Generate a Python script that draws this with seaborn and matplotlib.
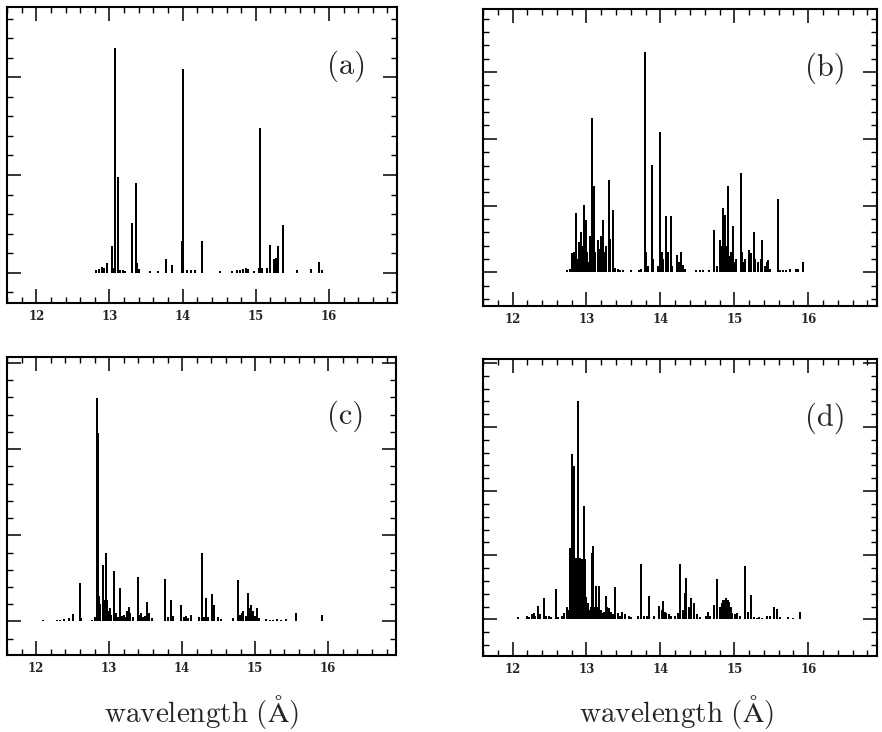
import matplotlib
matplotlib.use("Agg")
import matplotlib.pyplot as plt
from matplotlib.ticker import MultipleLocator, FixedLocator, NullFormatter
import seaborn as sns
import pandas as pd

# ---------------- data (wavelength in Angstrom, intensity in arbitrary units) -------------
wl_a = [12.82, 12.86, 12.90, 12.93, 12.96, 13.04, 13.06, 13.073, 13.115, 13.15, 13.18, 13.21,
        13.31, 13.36, 13.37, 13.41, 13.55, 13.66, 13.775, 13.86, 13.985, 14.00, 14.06, 14.12,
        14.17, 14.27, 14.51, 14.67, 14.74, 14.79, 14.82, 14.86, 14.89, 14.97, 15.04, 15.06,
        15.09, 15.15, 15.20, 15.25, 15.27, 15.31, 15.37, 15.57, 15.75, 15.87, 15.90]
h_a = [0.03, 0.04, 0.06, 0.05, 0.10, 0.27, 0.05, 2.30, 0.98, 0.03, 0.03, 0.02,
       0.505, 0.915, 0.10, 0.04, 0.02, 0.02, 0.14, 0.08, 0.32, 2.085, 0.03, 0.03,
       0.03, 0.32, 0.015, 0.02, 0.03, 0.03, 0.04, 0.05, 0.04, 0.02, 0.05, 1.48,
       0.05, 0.05, 0.28, 0.14, 0.15, 0.27, 0.49, 0.03, 0.04, 0.11, 0.03]

wl_b = [12.74, 12.78, 12.81, 12.83, 12.86, 12.88, 12.90, 12.92, 12.94, 12.96, 12.97, 12.99,
        13.01, 13.03, 13.05, 13.07, 13.08, 13.10, 13.12, 13.15, 13.17, 13.20, 13.22, 13.24,
        13.27, 13.30, 13.32, 13.36, 13.39, 13.42, 13.45, 13.50, 13.60, 13.71, 13.74, 13.785,
        13.80, 13.83, 13.88, 13.90, 13.97, 14.00, 14.02, 14.04, 14.07, 14.10, 14.14, 14.16,
        14.22, 14.25, 14.28, 14.31, 14.33, 14.48, 14.53, 14.57, 14.66, 14.73, 14.76, 14.80,
        14.82, 14.84, 14.87, 14.89, 14.91, 14.93, 14.95, 14.98, 15.00, 15.02, 15.09, 15.10,
        15.12, 15.15, 15.20, 15.22, 15.26, 15.28, 15.32, 15.36, 15.38, 15.41, 15.44, 15.46,
        15.48, 15.59, 15.62, 15.66, 15.70, 15.75, 15.84, 15.86, 15.93]
h_b = [0.04, 0.05, 0.29, 0.30, 0.89, 0.20, 0.45, 0.61, 0.40, 1.01, 0.85, 0.79,
       0.30, 0.15, 0.55, 1.44, 2.31, 1.29, 0.30, 0.49, 0.35, 0.54, 0.78, 0.30,
       0.39, 1.39, 0.50, 0.94, 0.06, 0.05, 0.04, 0.03, 0.03, 0.04, 0.05, 3.30,
       0.30, 0.10, 1.61, 0.20, 0.10, 2.10, 0.30, 0.20, 0.85, 0.30, 0.84, 0.10,
       0.26, 0.15, 0.31, 0.11, 0.05, 0.03, 0.04, 0.03, 0.04, 0.64, 0.10, 0.49,
       0.40, 0.96, 0.86, 0.40, 1.29, 0.24, 0.30, 0.69, 0.15, 0.20, 1.49, 0.30,
       0.15, 0.20, 0.34, 0.29, 0.61, 0.20, 0.15, 0.20, 0.49, 0.10, 0.15, 0.19,
       0.05, 1.10, 0.03, 0.04, 0.03, 0.05, 0.05, 0.05, 0.16]

wl_c = [12.10, 12.29, 12.33, 12.38, 12.45, 12.50, 12.60, 12.62, 12.77, 12.80, 12.83, 12.84,
        12.845, 12.86, 12.88, 12.91, 12.93, 12.95, 12.97, 12.99, 13.01, 13.03, 13.07, 13.09,
        13.11, 13.13, 13.15, 13.17, 13.20, 13.22, 13.25, 13.27, 13.29, 13.32, 13.39, 13.41,
        13.44, 13.46, 13.49, 13.52, 13.55, 13.59, 13.76, 13.77, 13.80, 13.85, 13.87, 13.98,
        14.02, 14.05, 14.08, 14.12, 14.23, 14.27, 14.30, 14.33, 14.36, 14.41, 14.44, 14.49,
        14.53, 14.70, 14.77, 14.79, 14.82, 14.84, 14.87, 14.90, 14.92, 14.95, 14.97, 15.00,
        15.02, 15.05, 15.15, 15.20, 15.25, 15.30, 15.36, 15.42, 15.56, 15.91]
h_c = [0.02, 0.02, 0.02, 0.03, 0.04, 0.09, 0.45, 0.04, 0.02, 0.05, 1.05, 2.59,
       2.19, 0.30, 0.20, 0.66, 0.25, 0.79, 0.25, 0.12, 0.15, 0.08, 0.59, 0.10,
       0.05, 0.05, 0.39, 0.06, 0.07, 0.05, 0.12, 0.17, 0.10, 0.05, 0.52, 0.07,
       0.10, 0.05, 0.06, 0.22, 0.10, 0.04, 0.04, 0.49, 0.05, 0.25, 0.06, 0.19,
       0.05, 0.06, 0.04, 0.08, 0.05, 0.79, 0.05, 0.27, 0.05, 0.32, 0.19, 0.05,
       0.03, 0.04, 0.48, 0.08, 0.10, 0.12, 0.06, 0.33, 0.15, 0.19, 0.12, 0.06,
       0.16, 0.04, 0.03, 0.02, 0.02, 0.03, 0.02, 0.03, 0.10, 0.07]

wl_d = [12.08, 12.19, 12.22, 12.26, 12.29, 12.31, 12.35, 12.37, 12.42, 12.45, 12.49, 12.52,
        12.59, 12.62, 12.67, 12.70, 12.73, 12.76, 12.78, 12.80, 12.81, 12.82, 12.83, 12.84,
        12.85, 12.86, 12.87, 12.88, 12.89, 12.90, 12.91, 12.92, 12.93, 12.94, 12.95, 12.96,
        12.97, 12.98, 12.99, 13.00, 13.02, 13.04, 13.06, 13.07, 13.09, 13.11, 13.13, 13.15,
        13.175, 13.20, 13.22, 13.24, 13.26, 13.28, 13.31, 13.33, 13.36, 13.39, 13.42, 13.45,
        13.48, 13.52, 13.57, 13.60, 13.70, 13.74, 13.78, 13.82, 13.85, 13.92, 13.98, 14.02,
        14.04, 14.06, 14.08, 14.11, 14.14, 14.20, 14.24, 14.27, 14.30, 14.33, 14.35, 14.38,
        14.42, 14.45, 14.50, 14.53, 14.61, 14.64, 14.67, 14.72, 14.77, 14.81, 14.83, 14.85,
        14.87, 14.89, 14.91, 14.93, 14.95, 14.97, 15.01, 15.04, 15.07, 15.15, 15.19, 15.22,
        15.26, 15.30, 15.34, 15.38, 15.44, 15.48, 15.53, 15.58, 15.62, 15.73, 15.80, 15.89,
        12.805, 12.815, 12.825, 12.835, 12.845, 12.855, 12.865, 12.875, 12.885, 12.895,
        12.905, 12.915, 12.925, 12.935, 12.945, 12.955, 12.965, 12.975]
h_d = [0.04, 0.05, 0.04, 0.08, 0.10, 0.06, 0.21, 0.08, 0.34, 0.06, 0.05, 0.04,
       0.48, 0.04, 0.05, 0.10, 0.20, 0.15, 1.11, 0.93, 2.58, 0.93, 2.39, 0.95,
       0.95, 0.95, 0.95, 0.95, 3.40, 0.95, 0.95, 0.94, 0.94, 0.94, 0.93, 0.60,
       1.77, 0.94, 0.35, 0.30, 0.25, 0.15, 0.20, 1.03, 1.15, 0.20, 0.52, 0.20,
       0.52, 0.15, 0.10, 0.12, 0.37, 0.20, 0.18, 0.12, 0.08, 0.51, 0.10, 0.05,
       0.12, 0.08, 0.05, 0.04, 0.05, 0.86, 0.06, 0.05, 0.36, 0.06, 0.21, 0.15,
       0.28, 0.12, 0.10, 0.08, 0.05, 0.05, 0.10, 0.86, 0.15, 0.41, 0.65, 0.20,
       0.33, 0.26, 0.08, 0.04, 0.05, 0.12, 0.06, 0.22, 0.63, 0.20, 0.25, 0.30,
       0.31, 0.33, 0.30, 0.27, 0.20, 0.10, 0.08, 0.10, 0.06, 0.83, 0.12, 0.38,
       0.04, 0.03, 0.04, 0.03, 0.05, 0.05, 0.20, 0.17, 0.04, 0.04, 0.02, 0.12,
       0.92, 0.93, 0.94, 0.94, 0.95, 0.95, 0.95, 0.95, 0.95, 0.95,
       0.95, 0.94, 0.94, 0.94, 0.93, 0.90, 0.93, 0.92]

panel_labels = ["(a)", "(b)", "(c)", "(d)"]
x_ticks = [12, 13, 14, 15, 16]
x_tick_labels = ["12", "13", "14", "15", "16"]
x_title = r"$\mathrm{wavelength\ (\AA)}$"

# ---------------- style ----------------
sns.set_style("ticks")
plt.rcParams["mathtext.fontset"] = "cm"
plt.rcParams["font.family"] = ["DejaVu Serif", "DejaVu Sans"]

W, H = 882, 732
fig = plt.figure(figsize=(W / 100, H / 100), dpi=100)

# pixel boxes: left, top, right, bottom
boxes = [(7, 7, 397, 303), (483, 9, 877, 306), (7, 357, 396, 655), (483, 359, 877, 656)]
ylims = [(-0.31, 2.72), (-0.505, 3.945), (-0.39, 3.07), (-0.57, 4.06)]
series = [(wl_a, h_a), (wl_b, h_b), (wl_c, h_c), (wl_d, h_d)]

for i, ((l, t, r, b), yl, (wl, hh), lab) in enumerate(zip(boxes, ylims, series, panel_labels)):
    ax = fig.add_axes([l / W, 1 - b / H, (r - l) / W, (b - t) / H])
    df = pd.DataFrame({"wavelength": wl, "intensity": hh})
    ax.vlines(df["wavelength"], 0, df["intensity"], color="black", linewidth=1.2,
              antialiased=False)
    ax.set_xlim(11.6, 16.93)
    ax.set_ylim(*yl)
    ax.xaxis.set_major_locator(FixedLocator(x_ticks))
    ax.set_xticklabels(x_tick_labels, fontsize=8.5, fontweight="bold", family="DejaVu Serif")
    ax.xaxis.set_minor_locator(MultipleLocator(0.2))
    ax.yaxis.set_major_locator(MultipleLocator(1.0))
    ax.yaxis.set_minor_locator(MultipleLocator(0.2))
    ax.yaxis.set_major_formatter(NullFormatter())
    ax.tick_params(which="both", direction="in", top=True, right=True, color="black")
    ax.tick_params(which="major", length=10, width=1.1)
    ax.tick_params(which="minor", length=4, width=1.0)
    ax.tick_params(axis="x", which="major", pad=5)
    ax.set_xlabel("")
    ax.set_ylabel("")
    for s in ax.spines.values():
        s.set_linewidth(1.5)
        s.set_color("black")
    sns.despine(ax=ax, top=False, right=False, left=False, bottom=False)
    ax.text(0.87, 0.80, lab, transform=ax.transAxes, ha="center", va="center",
            fontsize=22, family="cmr10")

# x titles under bottom row
fig.text(201 / W, 1 - 712 / H, x_title, ha="center", va="center", fontsize=21)
fig.text(676 / W, 1 - 712 / H, x_title, ha="center", va="center", fontsize=21)

fig.savefig("out.png", dpi=100, facecolor="white")
